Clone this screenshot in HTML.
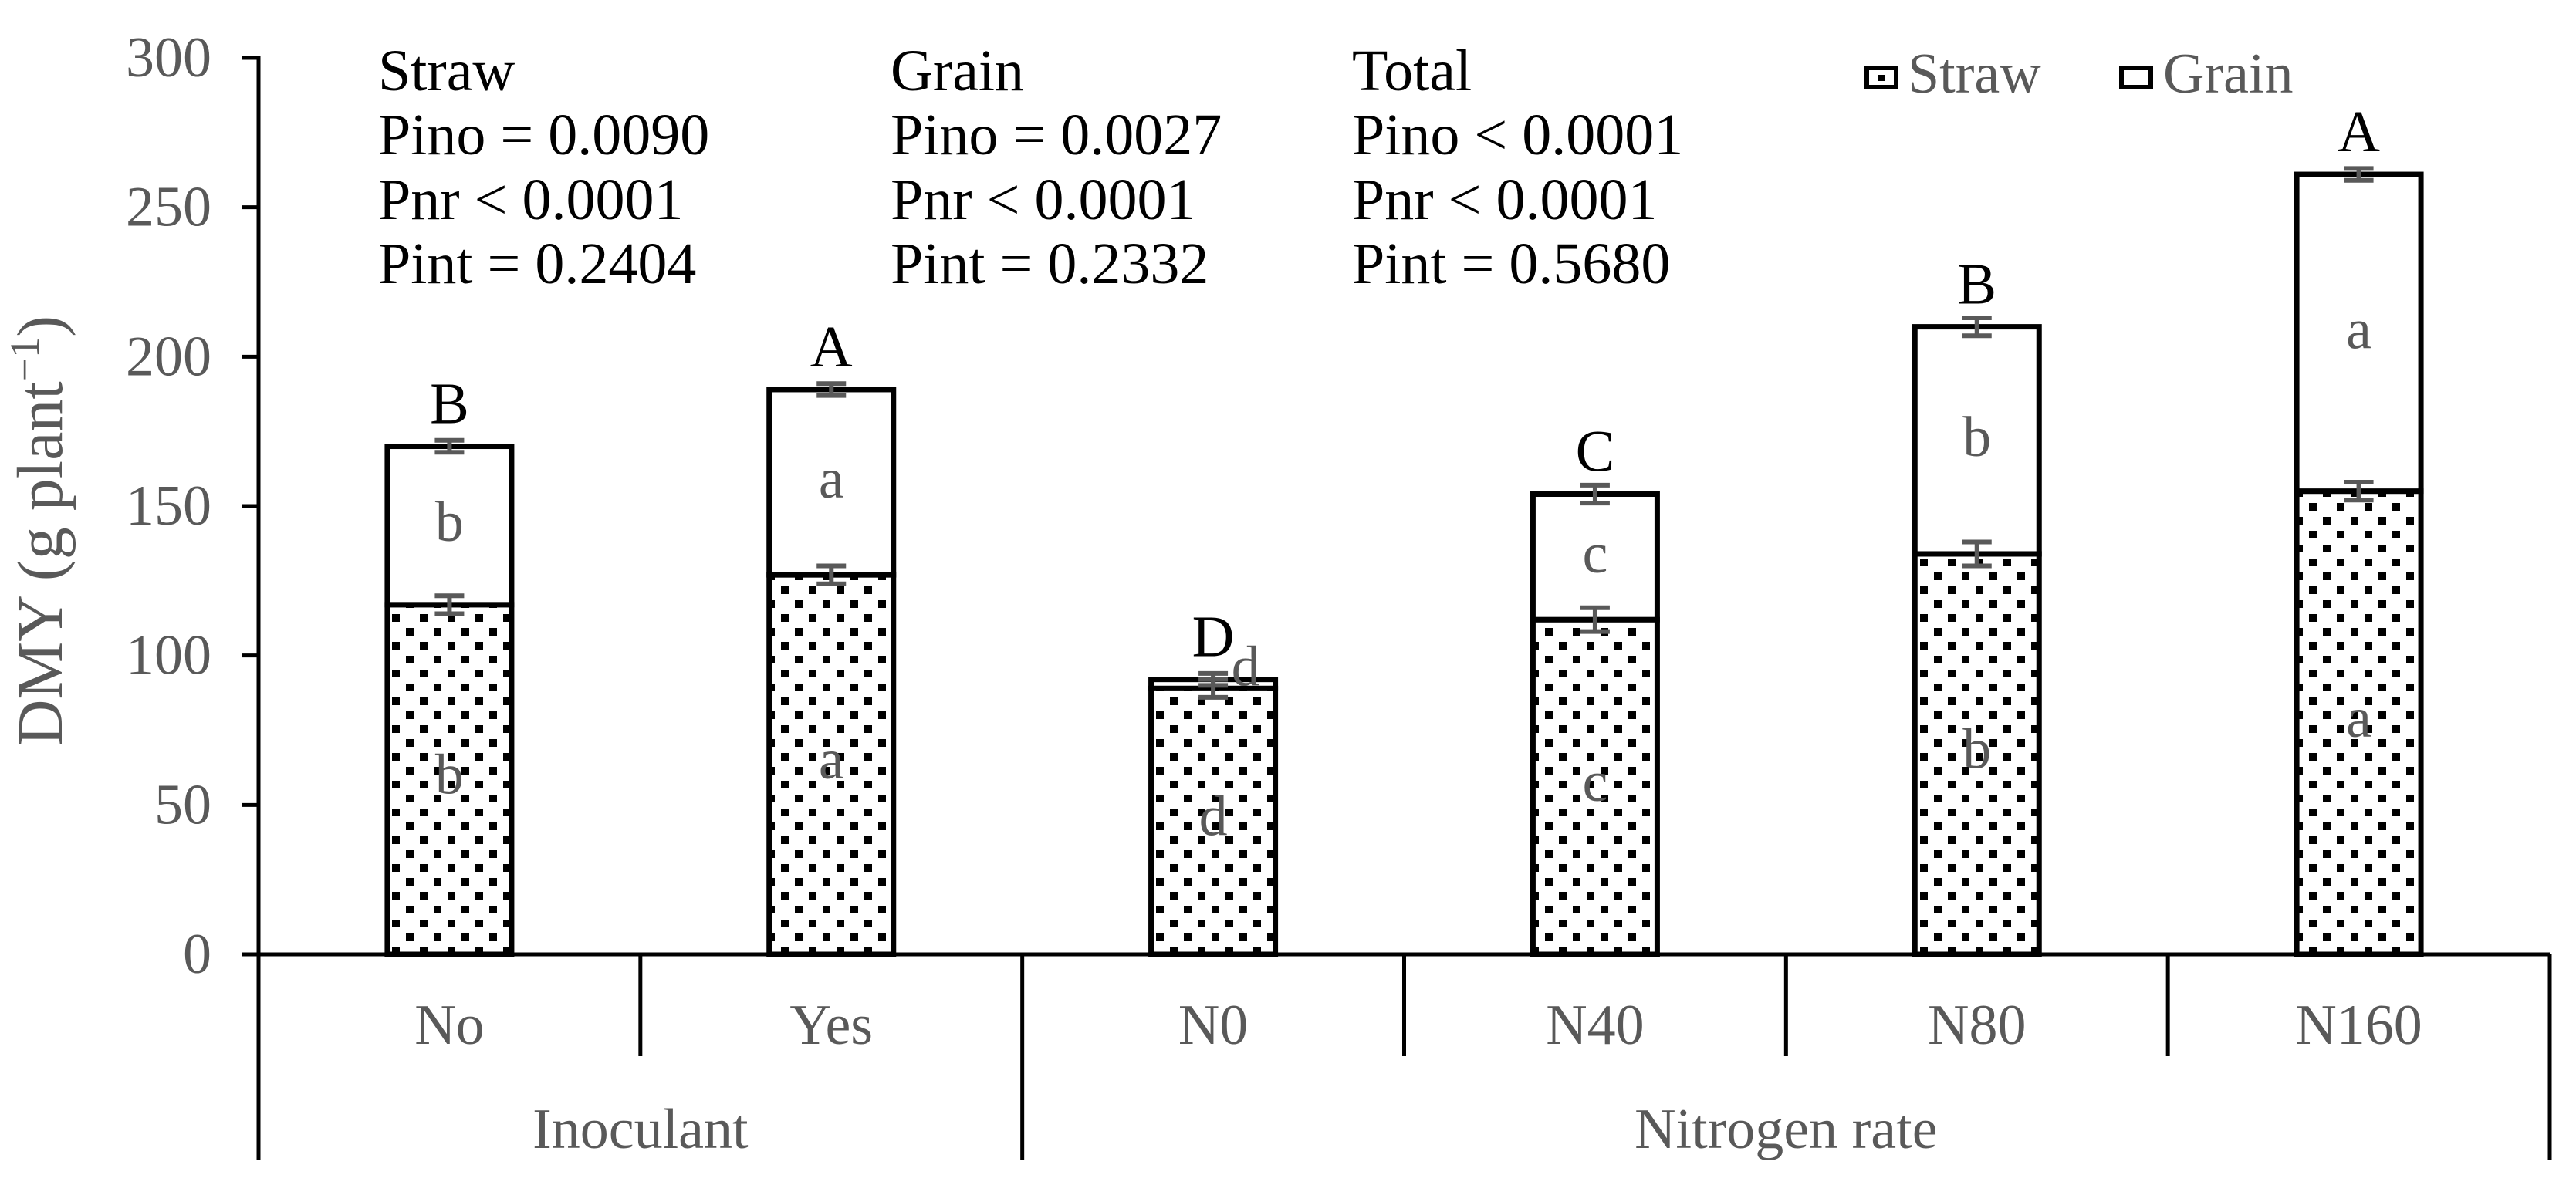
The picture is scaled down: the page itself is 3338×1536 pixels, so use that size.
<!DOCTYPE html>
<html><head><meta charset="utf-8"><style>
html,body{margin:0;padding:0;background:#fff;}
svg{display:block;font-family:"Liberation Serif",serif;}
</style></head><body>
<svg id="chart" width="3338" height="1536" viewBox="0 0 3338 1536" xmlns="http://www.w3.org/2000/svg">
<defs>
<pattern id="dots" patternUnits="userSpaceOnUse" width="36" height="36" x="0" y="0">
<rect x="4" y="4" width="10" height="10" fill="#000"/>
<rect x="22" y="22" width="10" height="10" fill="#000"/>
</pattern>
</defs>
<g id="g-axes"></g>
<g id="g-bars"></g>
</svg>
<script>
const categories = ["No","Yes","N0","N40","N80","N160"];
const groups = ["Inoculant","Nitrogen rate"];
const groupSizes = [2,4];
const strawValues = [117,127,89,112,134,155];
const totalValues = [170,189,92,154,210,261];
const strawErr = [3,3,3,4,4,3];
const totalErr = [2,2,2,3,3,2];
const strawLetters = ["b","a","d","c","b","a"];
const grainLetters = ["b","a","d","c","b","a"];
const totalLetters = ["B","A","D","C","B","A"];
const yTicks = [0,50,100,150,200,250,300];

const NS="http://www.w3.org/2000/svg";
const X0=335, X1=3304, Y0=1237, Y300=75;
const band=(X1-X0)/categories.length;
const y=v=>Y0-(v/300)*(Y0-Y300);
const xc=i=>X0+band*(i+0.5);
const BW=161;
function el(tag,attrs,parent,text){const e=document.createElementNS(NS,tag);for(const k in attrs)e.setAttribute(k,attrs[k]);if(text!==undefined)e.textContent=text;parent.appendChild(e);return e;}
const axes=document.getElementById('g-axes'),bars=document.getElementById('g-bars');

let ya=el('line',{x1:X0,y1:Y300-2,x2:X0,y2:1503,stroke:'#000','stroke-width':5},axes);


let xa=el('line',{x1:313,y1:Y0,x2:X1,y2:Y0,stroke:'#000','stroke-width':5},axes);


yTicks.forEach(t=>{
  const tk=el('line',{x1:313,y1:y(t),x2:X0,y2:y(t),stroke:'#000','stroke-width':5},axes);
  
  
  const lb=el('text',{x:274,y:y(t)+24,'text-anchor':'end','font-size':74,fill:'#595959'},axes,String(t));
  
  
});
for(let i=1;i<categories.length;i++){
  let isGroup=false,acc=0;groupSizes.forEach(s=>{acc+=s;if(acc===i)isGroup=true;});
  const d=el('line',{x1:X0+band*i,y1:Y0,x2:X0+band*i,y2:isGroup?1503:1369,stroke:'#000','stroke-width':5},axes);
  
  
}
const rd=el('line',{x1:X1,y1:Y0,x2:X1,y2:1503,stroke:'#000','stroke-width':5},axes);


categories.forEach((c,i)=>{
  const t=el('text',{x:xc(i),y:1353,'text-anchor':'middle','font-size':74,fill:'#595959'},axes,c);
  
  
});
let start=0;
groups.forEach((g,gi)=>{
  const mid=X0+band*(start+groupSizes[gi]/2);
  const t=el('text',{x:mid,y:1488,'text-anchor':'middle','font-size':74,fill:'#595959'},axes,g);
  
  
  start+=groupSizes[gi];
});
const yt=el('text',{x:0,y:0,transform:'translate(80,688) rotate(-90)','text-anchor':'middle','font-size':84,fill:'#595959'},axes);


yt.innerHTML='DMY (g plant<tspan font-size="54" dy="-30">−1</tspan><tspan dy="30">)</tspan>';

categories.forEach((c,i)=>{
  const L=xc(i)-BW/2;
  const s=el('rect',{x:L,y:y(strawValues[i]),width:BW,height:Y0-y(strawValues[i]),fill:'url(#dots)',stroke:'#000','stroke-width':7},bars);
  
  
  const g=el('rect',{x:L,y:y(totalValues[i]),width:BW,height:y(strawValues[i])-y(totalValues[i]),fill:'#fff',stroke:'#000','stroke-width':7},bars);
  
  
  [[strawValues[i],strawErr[i]],[totalValues[i],totalErr[i]]].forEach(([v,e])=>{
    const eb=el('path',{d:`M${xc(i)-19},${y(v+e)}H${xc(i)+19}M${xc(i)},${y(v+e)}V${y(v-e)}M${xc(i)-19},${y(v-e)}H${xc(i)+19}`,stroke:'#595959','stroke-width':6,fill:'none'},bars);
    
    
  });
  const sl=el('text',{x:xc(i),y:(y(strawValues[i])+Y0)/2+18,'text-anchor':'middle','font-size':74,fill:'#595959'},bars,strawLetters[i]);
  
  
  const small=(totalValues[i]-strawValues[i])<15;
  const gx=small?xc(i)+42:xc(i);
  const gy=small?y(totalValues[i])+8:(y(strawValues[i])+y(totalValues[i]))/2+20;
  const gl=el('text',{x:gx,y:gy,'text-anchor':'middle','font-size':74,fill:'#595959'},bars,grainLetters[i]);
  
  
  const tl=el('text',{x:xc(i),y:y(totalValues[i])-30,'text-anchor':'middle','font-size':76,fill:'#000'},bars,totalLetters[i]);
  
  
});
</script>
<svg style="position:absolute;left:0;top:0" width="3338" height="400">
<g font-family="Liberation Serif, serif" font-size="76" fill="#000">
<text><tspan x="490" y="117">Straw</tspan><tspan x="490" y="200">Pino = 0.0090</tspan><tspan x="490" y="284">Pnr &lt; 0.0001</tspan><tspan x="490" y="367">Pint = 0.2404</tspan></text>
<text><tspan x="1154" y="117">Grain</tspan><tspan x="1154" y="200">Pino = 0.0027</tspan><tspan x="1154" y="284">Pnr &lt; 0.0001</tspan><tspan x="1154" y="367">Pint = 0.2332</tspan></text>
<text><tspan x="1752" y="117">Total</tspan><tspan x="1752" y="200">Pino &lt; 0.0001</tspan><tspan x="1752" y="284">Pnr &lt; 0.0001</tspan><tspan x="1752" y="367">Pint = 0.5680</tspan></text>
</g>
<g>
<rect x="2419" y="88" width="38" height="25" fill="#fff" stroke="#000" stroke-width="6"/>
<rect x="2434" y="97" width="8" height="8" fill="#000"/>
<text x="2472" y="120" font-family="Liberation Serif, serif" font-size="74" fill="#595959">Straw</text>
<rect x="2749" y="88" width="38" height="25" fill="#fff" stroke="#000" stroke-width="6"/>
<text x="2803" y="120" font-family="Liberation Serif, serif" font-size="74" fill="#595959">Grain</text>
</g>
</svg>
</body></html>
